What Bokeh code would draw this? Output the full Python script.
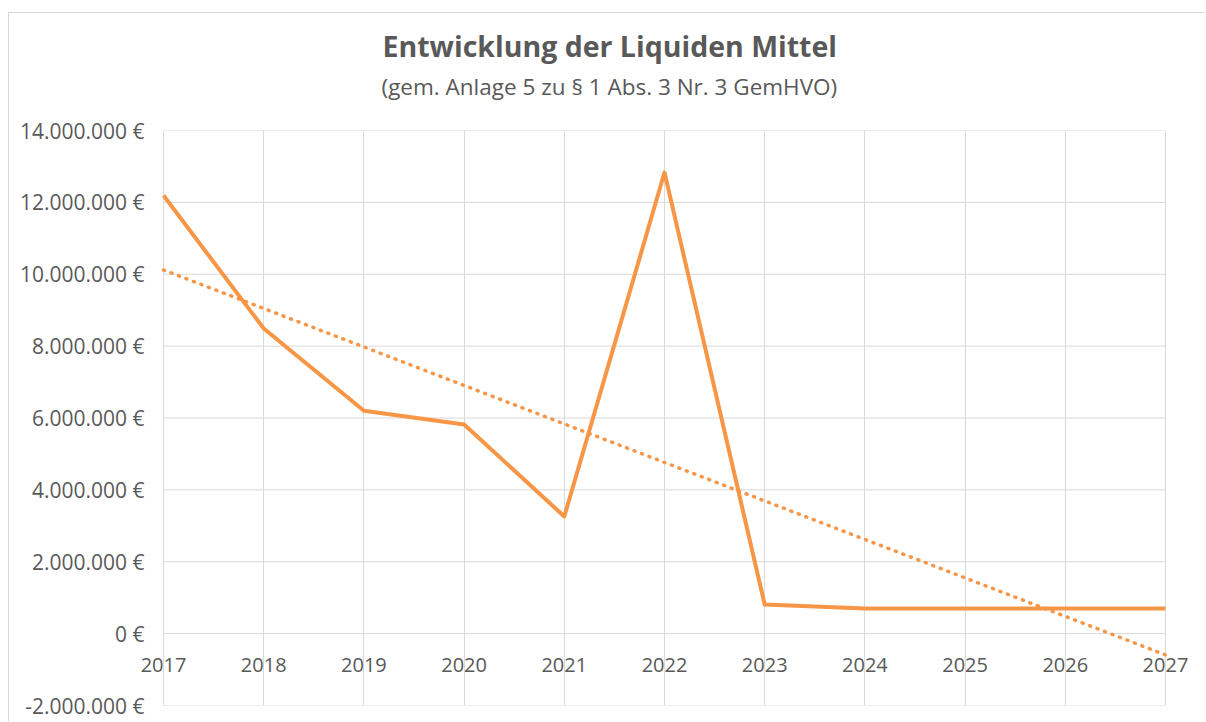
import numpy as np
from bokeh.plotting import figure
from bokeh.models import Title, FixedTicker, Range1d, Label
from bokeh.embed import file_html
from bokeh.resources import INLINE

years = [2017, 2018, 2019, 2020, 2021, 2022, 2023, 2024, 2025, 2026, 2027]
liquid = [12190000, 8490000, 6200000, 5820000, 3260000, 12830000,
          810000, 700000, 700000, 700000, 700000]
y_ticks = [-2000000, 0, 2000000, 4000000, 6000000, 8000000, 10000000, 12000000, 14000000]
y_tick_labels = ["-2.000.000 €", "0 €", "2.000.000 €", "4.000.000 €", "6.000.000 €",
                 "8.000.000 €", "10.000.000 €", "12.000.000 €", "14.000.000 €"]
year_labels = [str(y) for y in years]
title_text = "Entwicklung der Liquiden Mittel"
subtitle_text = "(gem. Anlage 5 zu § 1 Abs. 3 Nr. 3 GemHVO)"

# linear trendline (least squares, as Excel does)
slope, intercept = np.polyfit(years, liquid, 1)
trend = [slope * y + intercept for y in years]

FONT = "Open Sans"
TXT = "#595959"
GRID = "#d9d9d9"
ORANGE = "#F79646"
PAD = 0.25  # room so the first/last year labels are not clipped

p = figure(width=1197, height=709, output_backend="svg", toolbar_location=None,
           x_range=Range1d(years[0] - PAD, years[-1] + PAD),
           y_range=Range1d(y_ticks[0], y_ticks[-1]),
           min_border_left=129, min_border_right=16, min_border_top=117,
           min_border_bottom=17, margin=(12, 0, 0, 8),
           styles={"border-left": "1px solid #d9d9d9", "border-top": "1px solid #d9d9d9"})
p.outline_line_color = None
p.background_fill_color = "white"
p.border_fill_color = "white"

# titles: spacer (next to frame), subtitle, then main title (outermost)
spacer = Title(text=" ", text_font_size="2px", standoff=22)
p.add_layout(spacer, "above")
sub = Title(text=subtitle_text, align="left", offset=243, text_font=FONT,
            text_font_style="normal", text_font_size="22.5px", text_color=TXT, standoff=6)
p.add_layout(sub, "above")

p.title.text = title_text
p.title.align = "left"
p.title.offset = 244
p.title.text_font = FONT
p.title.text_font_style = "bold"
p.title.text_font_size = "28.5px"
p.title.text_color = TXT
p.title.standoff = 1

# axes / grid
p.xaxis.visible = False
p.xgrid.ticker = FixedTicker(ticks=years)
p.xgrid.grid_line_color = GRID
p.ygrid.grid_line_color = None
p.segment(x0=[years[0]] * len(y_ticks), x1=[years[-1]] * len(y_ticks),
          y0=y_ticks, y1=y_ticks, line_color=GRID, line_width=1)

p.yaxis.ticker = FixedTicker(ticks=y_ticks)
p.yaxis.major_label_overrides = dict(zip(y_ticks, y_tick_labels))
p.yaxis.axis_line_color = None
p.yaxis.major_tick_line_color = None
p.yaxis.minor_tick_line_color = None
p.yaxis.major_tick_out = 0
p.yaxis.major_tick_in = 0
p.yaxis.major_label_standoff = -6
p.yaxis.major_label_text_font = FONT
p.yaxis.major_label_text_font_size = "21px"
p.yaxis.major_label_text_color = TXT

# data
p.line(years, liquid, line_color=ORANGE, line_width=4, line_join="round")
p.line(years, trend, line_color=ORANGE, line_width=3.5, line_dash="1 7", line_cap="round")

# x labels at y = 0
for yr, t in zip(years, year_labels):
    p.add_layout(Label(x=yr, y=0, text=t, text_align="center", text_baseline="middle",
                       y_offset=-31, text_font=FONT, text_font_size="20px", text_color=TXT))

open("out.html", "w").write(file_html(p, INLINE))
